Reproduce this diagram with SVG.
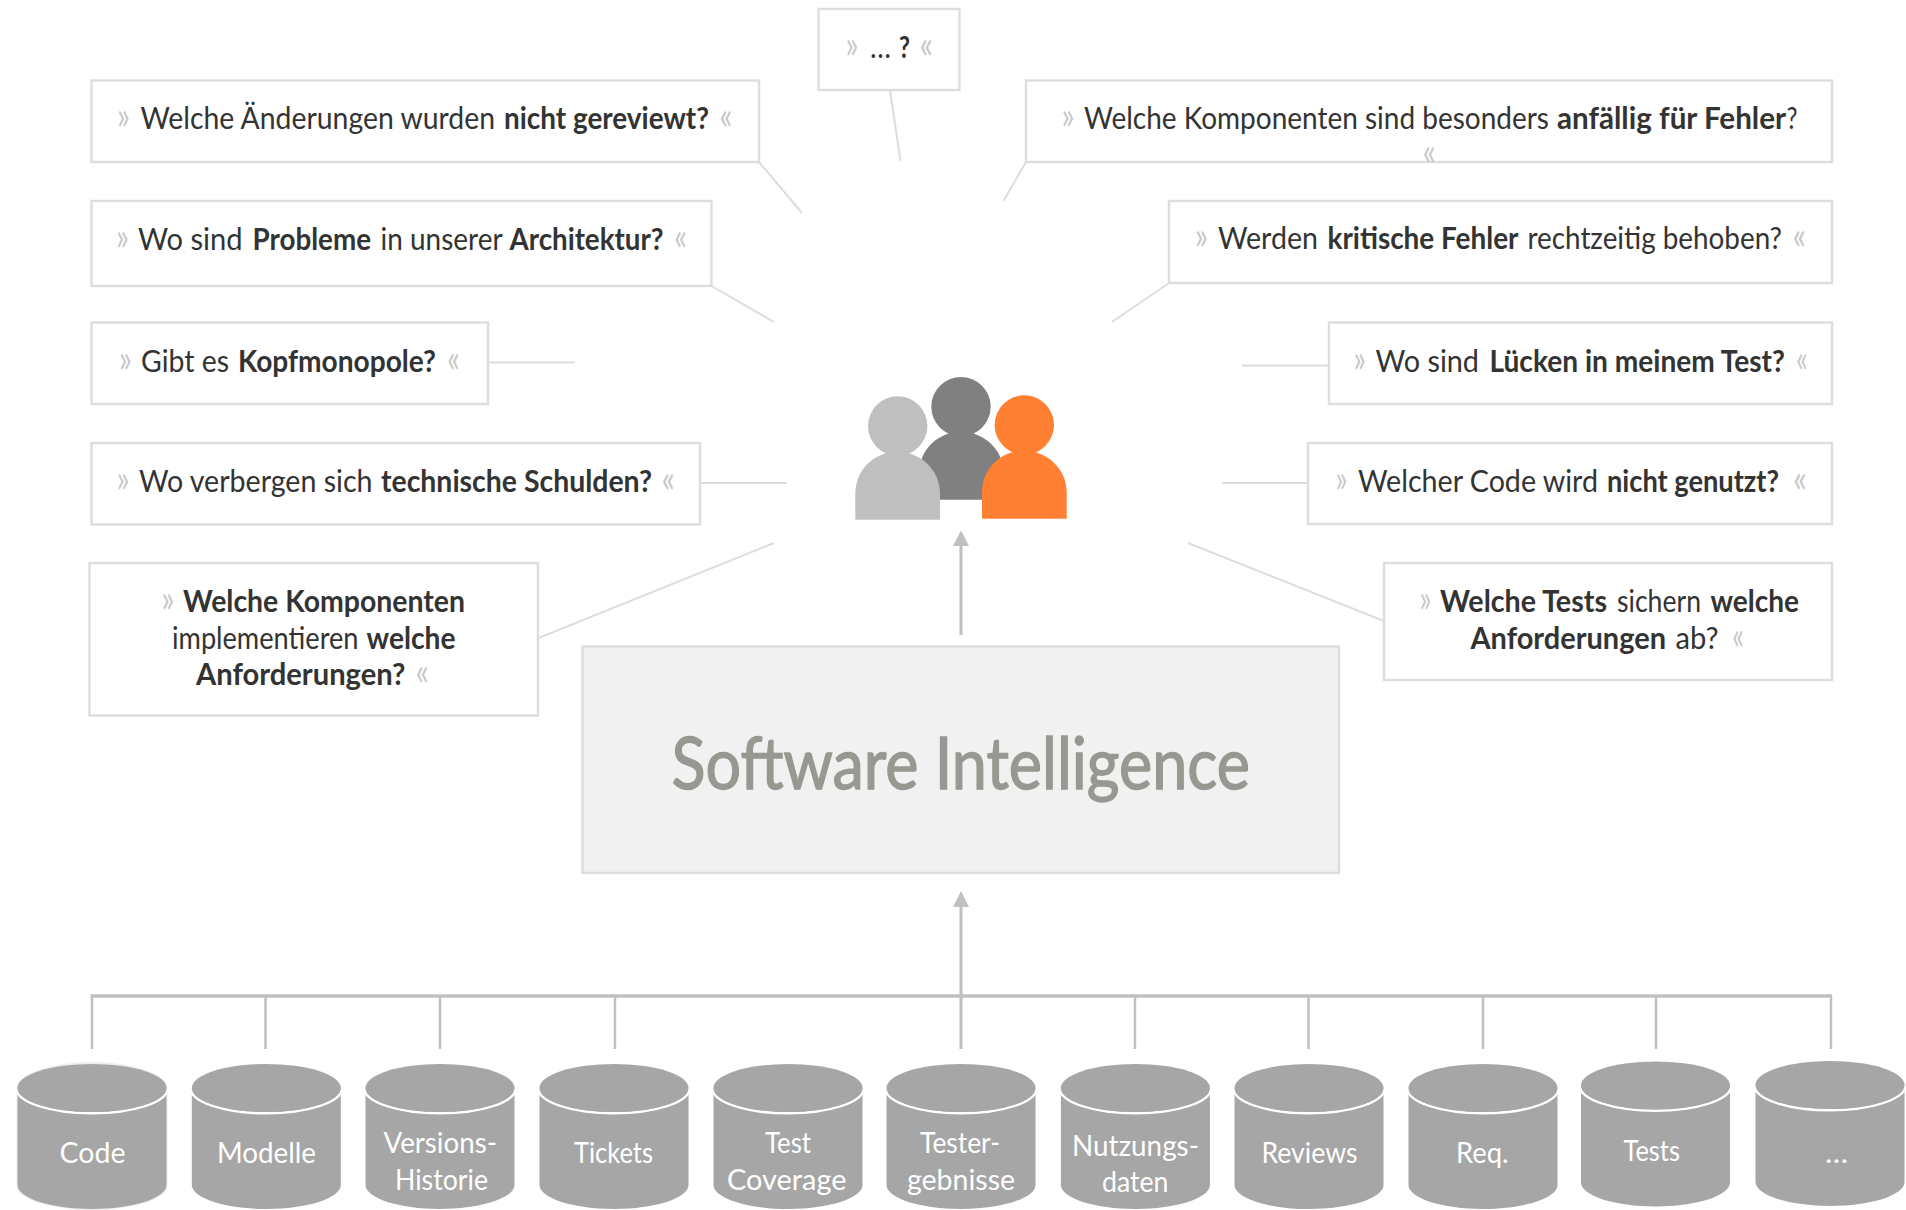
<svg xmlns="http://www.w3.org/2000/svg" width="1906" height="1210" viewBox="0 0 1906 1210">
<style>
text{font-family:"Lato","Open Sans","Liberation Sans",sans-serif;font-size:30px;fill:#333;font-weight:400}
.b{font-weight:700}
.q{fill:#c8c8c8;font-size:38px;font-weight:400}
.box{fill:#fff;stroke:#ddd;stroke-width:2.4}
.thin{stroke:#ddd;stroke-width:2;fill:none}
.bus{stroke:#c0c0c0;fill:none}
.cyl text{fill:#fff;font-weight:400;font-size:29px}
.cb{fill:#a6a6a6}
.arc{fill:none;stroke:#fff;stroke-width:2.6}
</style>
<defs>
<g id="cyl"><path class="cb" d="M-74.500 0V97C-74.500 110 -41 121 0 121S74.500 110 74.500 97V0Z"/><path class="arc" d="M-75.700 0A75.700 25.300 0 0 0 75.700 0"/><ellipse class="cb" cx="0" cy="0" rx="74.500" ry="24"/></g>
<path id="body" d="M0 68V42C0 18 19 0 42 0S84.700 18 84.700 42V68Z"/>
</defs>
<g id="connectors">
<path class="thin" d="M759 162L802 213M711.500 286L774 322M488 362.500H575M890 90L900.500 161M1026 162L1003.500 201M1169 283L1112 322M1242 365.500H1329M1222 483H1308M700 483H786.500M538.500 638L774 543M1188 543L1384 621"/>
<path class="bus" stroke-width="3.500" d="M90.500 996H1832"/>
<path class="bus" stroke-width="2.500" d="M92 996V1049M265.500 996V1049M440 996V1049M615 996V1049M1135 996V1049M1308.500 996V1049M1483 996V1049M1656 996V1049M1831 996V1049"/>
<path class="bus" stroke-width="3" d="M961 1049V905M961 635V544"/>
<path fill="#c0c0c0" d="M961 891L969 907H953ZM961 530.500L969 546H953Z"/>
</g>
<g id="q-review"><rect class="box" x="91.500" y="80.500" width="667.500" height="81.500"/><text y="129"><tspan class="q" x="117" textLength="13" lengthAdjust="spacingAndGlyphs">»</tspan> <tspan x="140.500" textLength="354.500" lengthAdjust="spacingAndGlyphs">Welche Änderungen wurden</tspan> <tspan class="b" x="504" textLength="205" lengthAdjust="spacingAndGlyphs">nicht gereviewt?</tspan> <tspan class="q" x="719.500" textLength="13" lengthAdjust="spacingAndGlyphs">«</tspan></text></g>
<g id="q-architektur"><rect class="box" x="91.500" y="201" width="620" height="85"/><text y="250"><tspan class="q" x="116" textLength="13" lengthAdjust="spacingAndGlyphs">»</tspan> <tspan x="138" textLength="104.500" lengthAdjust="spacingAndGlyphs">Wo sind</tspan> <tspan class="b" x="252.500" textLength="118.500" lengthAdjust="spacingAndGlyphs">Probleme</tspan> <tspan x="380.500" textLength="121.500" lengthAdjust="spacingAndGlyphs">in unserer</tspan> <tspan class="b" x="509.500" textLength="154" lengthAdjust="spacingAndGlyphs">Architektur?</tspan> <tspan class="q" x="674" textLength="13" lengthAdjust="spacingAndGlyphs">«</tspan></text></g>
<g id="q-kopf"><rect class="box" x="91.500" y="322.500" width="396.500" height="81.500"/><text y="371.500"><tspan class="q" x="119" textLength="13" lengthAdjust="spacingAndGlyphs">»</tspan> <tspan x="141" textLength="88" lengthAdjust="spacingAndGlyphs">Gibt es</tspan> <tspan class="b" x="238" textLength="198" lengthAdjust="spacingAndGlyphs">Kopfmonopole?</tspan> <tspan class="q" x="447" textLength="13" lengthAdjust="spacingAndGlyphs">«</tspan></text></g>
<g id="q-schulden"><rect class="box" x="91.500" y="443" width="608.500" height="81.500"/><text y="491.500"><tspan class="q" x="116.500" textLength="13" lengthAdjust="spacingAndGlyphs">»</tspan> <tspan x="139" textLength="233.500" lengthAdjust="spacingAndGlyphs">Wo verbergen sich</tspan> <tspan class="b" x="381" textLength="271" lengthAdjust="spacingAndGlyphs">technische Schulden?</tspan> <tspan class="q" x="661.500" textLength="13.500" lengthAdjust="spacingAndGlyphs">«</tspan></text></g>
<g id="q-komponenten"><rect class="box" x="89.500" y="563" width="448.500" height="152.500"/><text y="612"><tspan class="q" x="161.500" textLength="13" lengthAdjust="spacingAndGlyphs">»</tspan> <tspan class="b" x="183" textLength="282" lengthAdjust="spacingAndGlyphs">Welche Komponenten</tspan></text><text y="649"><tspan x="172" textLength="186.500" lengthAdjust="spacingAndGlyphs">implementieren</tspan> <tspan class="b" x="366.500" textLength="89" lengthAdjust="spacingAndGlyphs">welche</tspan></text><text y="685"><tspan class="b" x="196" textLength="209.500" lengthAdjust="spacingAndGlyphs">Anforderungen?</tspan> <tspan class="q" x="415.500" textLength="13.500" lengthAdjust="spacingAndGlyphs">«</tspan></text></g>
<g id="q-more"><rect class="box" x="818.500" y="9" width="141" height="81"/><text y="58"><tspan class="q" x="845.500" textLength="13" lengthAdjust="spacingAndGlyphs">»</tspan> <tspan x="870" textLength="21" lengthAdjust="spacingAndGlyphs">…</tspan><tspan class="b" x="899" textLength="11" lengthAdjust="spacingAndGlyphs">?</tspan> <tspan class="q" x="919.500" textLength="13.500" lengthAdjust="spacingAndGlyphs">«</tspan></text></g>
<g id="q-anfaellig"><rect class="box" x="1026" y="80.500" width="806" height="81.500"/><text y="129"><tspan class="q" x="1061.500" textLength="13" lengthAdjust="spacingAndGlyphs">»</tspan> <tspan x="1084" textLength="465" lengthAdjust="spacingAndGlyphs">Welche Komponenten sind besonders</tspan> <tspan class="b" x="1557" textLength="229" lengthAdjust="spacingAndGlyphs">anfällig für Fehler</tspan><tspan x="1786.500" textLength="11" lengthAdjust="spacingAndGlyphs">?</tspan></text><text y="165"><tspan class="q" x="1422.500" textLength="13.500" lengthAdjust="spacingAndGlyphs">«</tspan></text></g>
<g id="q-kritisch"><rect class="box" x="1169" y="201" width="663" height="82"/><text y="249"><tspan class="q" x="1195" textLength="13" lengthAdjust="spacingAndGlyphs">»</tspan> <tspan x="1218" textLength="100" lengthAdjust="spacingAndGlyphs">Werden</tspan> <tspan class="b" x="1327.500" textLength="191" lengthAdjust="spacingAndGlyphs">kritische Fehler</tspan> <tspan x="1527.500" textLength="254.500" lengthAdjust="spacingAndGlyphs">rechtzeitig behoben?</tspan> <tspan class="q" x="1792.500" textLength="13.500" lengthAdjust="spacingAndGlyphs">«</tspan></text></g>
<g id="q-luecken"><rect class="box" x="1329" y="322.500" width="503" height="81.500"/><text y="371.500"><tspan class="q" x="1353.500" textLength="12.500" lengthAdjust="spacingAndGlyphs">»</tspan> <tspan x="1375.500" textLength="103.500" lengthAdjust="spacingAndGlyphs">Wo sind</tspan> <tspan class="b" x="1489.500" textLength="295.500" lengthAdjust="spacingAndGlyphs">Lücken in meinem Test?</tspan> <tspan class="q" x="1796" textLength="12" lengthAdjust="spacingAndGlyphs">«</tspan></text></g>
<g id="q-genutzt"><rect class="box" x="1308" y="443" width="524" height="81"/><text y="491.500"><tspan class="q" x="1335.500" textLength="12" lengthAdjust="spacingAndGlyphs">»</tspan> <tspan x="1358" textLength="240" lengthAdjust="spacingAndGlyphs">Welcher Code wird</tspan> <tspan class="b" x="1607" textLength="172" lengthAdjust="spacingAndGlyphs">nicht genutzt?</tspan> <tspan class="q" x="1793" textLength="14" lengthAdjust="spacingAndGlyphs">«</tspan></text></g>
<g id="q-tests"><rect class="box" x="1384" y="563" width="448" height="117"/><text y="612"><tspan class="q" x="1419.500" textLength="12" lengthAdjust="spacingAndGlyphs">»</tspan> <tspan class="b" x="1440" textLength="167" lengthAdjust="spacingAndGlyphs">Welche Tests</tspan> <tspan x="1617" textLength="84" lengthAdjust="spacingAndGlyphs">sichern</tspan> <tspan class="b" x="1710.500" textLength="88.500" lengthAdjust="spacingAndGlyphs">welche</tspan></text><text y="649"><tspan class="b" x="1470.500" textLength="195.500" lengthAdjust="spacingAndGlyphs">Anforderungen</tspan> <tspan x="1675.500" textLength="43" lengthAdjust="spacingAndGlyphs">ab?</tspan> <tspan class="q" x="1732" textLength="12" lengthAdjust="spacingAndGlyphs">«</tspan></text></g>
<g id="software-intelligence"><rect x="582.500" y="646.500" width="756.500" height="226.500" fill="#f1f1f1" stroke="#ddd" stroke-width="2.400"/><text x="671.500" y="789" textLength="578.500" lengthAdjust="spacingAndGlyphs" style="font-size:71px;fill:#989892;stroke:#989892;stroke-width:1.400">Software Intelligence</text></g>
<g id="people">
<circle cx="961" cy="406.700" r="29.700" fill="#808080"/><use href="#body" x="919" y="431.700" fill="#808080"/>
<circle cx="897.700" cy="426" r="29.700" fill="#bfbfbf"/><use href="#body" x="855.300" y="451.700" fill="#bfbfbf"/>
<circle cx="1024.300" cy="425" r="29.700" fill="#ff7f33"/><use href="#body" x="982" y="450.700" fill="#ff7f33"/>
</g>
<g id="src-code" class="cyl"><path d="M17.500 1088V1185C17.500 1198 51 1209 92 1209S166.500 1198 166.500 1185V1088C166.500 1075 133 1063 92 1063S17.500 1075 17.500 1088Z" fill="none" stroke="#eee" stroke-width="2"/><use href="#cyl" x="92" y="1088"/><text x="59.500" y="1163" textLength="66" lengthAdjust="spacingAndGlyphs">Code</text></g>
<g id="src-modelle" class="cyl"><use href="#cyl" x="266.300" y="1088"/><text x="217" y="1163" textLength="99" lengthAdjust="spacingAndGlyphs">Modelle</text></g>
<g id="src-versionen" class="cyl"><use href="#cyl" x="440" y="1088"/><text x="383.500" y="1152.500" textLength="113.500" lengthAdjust="spacingAndGlyphs">Versions-</text><text x="395" y="1190" textLength="93" lengthAdjust="spacingAndGlyphs">Historie</text></g>
<g id="src-tickets" class="cyl"><use href="#cyl" x="614" y="1088"/><text x="574" y="1163" textLength="79" lengthAdjust="spacingAndGlyphs">Tickets</text></g>
<g id="src-coverage" class="cyl"><use href="#cyl" x="788" y="1088"/><text x="765" y="1152.500" textLength="46" lengthAdjust="spacingAndGlyphs">Test</text><text x="727" y="1190" textLength="119.500" lengthAdjust="spacingAndGlyphs">Coverage</text></g>
<g id="src-ergebnisse" class="cyl"><use href="#cyl" x="961" y="1088"/><text x="920" y="1152.500" textLength="80" lengthAdjust="spacingAndGlyphs">Tester-</text><text x="907" y="1190" textLength="108" lengthAdjust="spacingAndGlyphs">gebnisse</text></g>
<g id="src-nutzung" class="cyl"><use href="#cyl" x="1135.400" y="1088"/><text x="1072" y="1155.500" textLength="127" lengthAdjust="spacingAndGlyphs">Nutzungs-</text><text x="1102" y="1192" textLength="66.500" lengthAdjust="spacingAndGlyphs">daten</text></g>
<g id="src-reviews" class="cyl"><use href="#cyl" x="1309" y="1088"/><text x="1261.500" y="1163" textLength="96" lengthAdjust="spacingAndGlyphs">Reviews</text></g>
<g id="src-req" class="cyl"><use href="#cyl" x="1483" y="1088"/><text x="1456" y="1163" textLength="52.500" lengthAdjust="spacingAndGlyphs">Req.</text></g>
<g id="src-tests" class="cyl"><use href="#cyl" x="1655.500" y="1085.500"/><text x="1623.500" y="1161" textLength="56.500" lengthAdjust="spacingAndGlyphs">Tests</text></g>
<g id="src-more" class="cyl"><use href="#cyl" x="1830" y="1085"/><text x="1825" y="1163" textLength="23" lengthAdjust="spacingAndGlyphs">…</text></g>
</svg>
